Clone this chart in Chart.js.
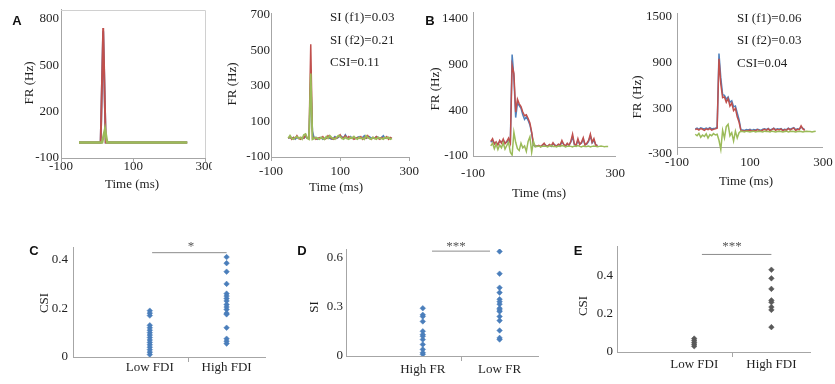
<!DOCTYPE html>
<html>
<head>
<meta charset="utf-8">
<script src="https://cdn.jsdelivr.net/npm/chart.js@4.4.1/dist/chart.umd.min.js"></script>
<style>
  body { margin: 0; background: #fff; }
  #fig { position: relative; width: 835px; height: 384px; overflow: hidden; font-family: "Liberation Serif", "Times New Roman", serif; color: #1f1f1f; }
  #fig canvas { position: absolute; }
  .t, .yt, .note, .panel, .star { position: absolute; font-size: 13px; line-height: 1; white-space: nowrap; }
  .t { transform: translate(-50%, -50%); }
  .yt { transform: translate(-50%, -50%) rotate(-90deg); }
  .note { transform: translateY(-50%); }
  .panel { transform: translate(-50%, -50%); font: bold 13px "Liberation Sans", Arial, sans-serif; color: #111; }
  .star { transform: translate(-50%, -50%); color: #555; }
</style>
</head>
<body>
<div id="fig">
  <canvas id="chartA1" width="212" height="182" style="left:0;top:0"></canvas>
  <canvas id="chartA2" width="210" height="182" style="left:212px;top:0"></canvas>
  <canvas id="chartB1" width="215" height="185" style="left:420px;top:0"></canvas>
  <canvas id="chartB2" width="210" height="175" style="left:625px;top:0"></canvas>
  <canvas id="chartC" width="275" height="145" style="left:0;top:235px"></canvas>
  <canvas id="chartD" width="275" height="145" style="left:280px;top:235px"></canvas>
  <canvas id="chartE" width="275" height="145" style="left:560px;top:235px"></canvas>

  <!-- panel letters -->
  <div class="panel" style="left:17px;top:20px">A</div>
  <div class="panel" style="left:430px;top:20px">B</div>
  <div class="panel" style="left:34px;top:250px">C</div>
  <div class="panel" style="left:302px;top:250px">D</div>
  <div class="panel" style="left:578px;top:250px">E</div>

  <!-- axis titles -->
  <div class="yt" style="left:28px;top:83px">FR (Hz)</div>
  <div class="yt" style="left:231px;top:84px">FR (Hz)</div>
  <div class="yt" style="left:434px;top:89px">FR (Hz)</div>
  <div class="yt" style="left:636px;top:97px">FR (Hz)</div>
  <div class="t" style="left:132px;top:183px">Time (ms)</div>
  <div class="t" style="left:336px;top:186px">Time (ms)</div>
  <div class="t" style="left:539px;top:192px">Time (ms)</div>
  <div class="t" style="left:746px;top:180px">Time (ms)</div>
  <div class="yt" style="left:43px;top:303px">CSI</div>
  <div class="yt" style="left:313px;top:307px">SI</div>
  <div class="yt" style="left:582px;top:306px">CSI</div>

  <!-- index notes -->
  <div class="note" style="left:330px;top:16px">SI (f1)=0.03</div>
  <div class="note" style="left:330px;top:39px">SI (f2)=0.21</div>
  <div class="note" style="left:330px;top:61px">CSI=0.11</div>
  <div class="note" style="left:737px;top:17px">SI (f1)=0.06</div>
  <div class="note" style="left:737px;top:39px">SI (f2)=0.03</div>
  <div class="note" style="left:737px;top:62px">CSI=0.04</div>

  <!-- significance -->
  <div class="star" style="left:191px;top:245px">*</div>
  <div class="star" style="left:456px;top:245px">***</div>
  <div class="star" style="left:732px;top:245px">***</div>
</div>

<script>
// ---- data ----

// A (left): sparse samples, nulls are bridged
const a1Time  = [-50, 10, 14, 17, 22, 24, 28, 250];
const a1Red   = [0, 0, null, 740, null, 0, null, 0];
const a1Blue  = [0, 0, null, 720, null, 0, null, 0];
const a1Green = [0, null, 0, null, 85, null, 0, 0];

// 5 ms bins used by A (right) and B
const timeMs = [-50, -45, -40, -35, -30, -25, -20, -15, -10, -5, 0, 5, 10, 15, 20, 25, 30, 35, 40, 45,
    50, 55, 60, 65, 70, 75, 80, 85, 90, 95, 100, 105, 110, 115, 120, 125, 130, 135, 140, 145,
    150, 155, 160, 165, 170, 175, 180, 185, 190, 195, 200, 205, 210, 215, 220, 225, 230, 235, 240, 245,
    250, 255, 260, 265, 270, 275, 280];

const a2Red = [5, 15, 0, 10, 5, 20, 5, 0, 10, 5,
    25, 5, 5, 535, 5, 10, 0, 5, 10, 5,
    15, 0, 5, 20, 10, 5, 0, 10, 5, 15,
    25, 5, 10, 20, 5, 15, 5, 10, 0, 5,
    10, 5, 15, 0, 10, 5, 20, 5, 0, 10,
    5, 15, 5, 0, 10, 5, 5, 15, 0, 10, 5];
const a2Blue = [5, 10, 5, 10, 0, 10, 5, 5, 10, 5,
    15, 5, 5, 330, 45, 5, 10, 0, 5, 10,
    0, 5, 10, 10, 5, 0, 5, 15, 5, 10,
    20, 15, 5, 25, 10, 5, 15, 5, 10, 5,
    10, 15, 5, 10, 20, 5, 10, 15, 5, 10,
    5, 15, 10, 5, 10, 20, 5, 10, 5, 5, 5];
const a2Green = [5, 20, 5, 0, 10, 15, 5, 10, 0, 25,
    30, 5, 0, 370, 0, 5, 10, 5, 0, 10,
    5, 0, 15, 5, 20, 10, 5, 0, 10, 20,
    15, 5, 0, 10, 5, 0, 10, 5, 15, 5,
    0, 10, 5, 5, 0, 20, 10, 5, 0, 10,
    5, 0, 10, 5, 5, 0, 10, 5, 10, 0, 5];

const b1Red = [60, 90, 30, 55, 20, 70, 40, 85, 35, 60, 95, 40,
    890, 800, 380, 520, 470, 440, 380, 340, 350, 310, 260, 160, 30,
    10, 5, 15, 0, 20, 40, 10, 5, 25, 10, 45, 15, 5, 30, 20, 70, 25, 10, 40, 15,
    60, 140, 30, 20, 90, 25, 50, 100, 20, 40, 70, 140, 50, 90, 20, 15];
const b1Blue = [50, 70, 40, 45, 30, 60, 55, 70, 45, 50, 80, 50,
    1010, 760, 320, 480, 450, 420, 350, 300, 330, 290, 240, 150, 20,
    5, 10, 10, 5, 15, 30, 15, 5, 20, 5, 35, 20, 10, 25, 15, 55, 30, 5, 30, 20,
    50, 110, 25, 15, 70, 30, 40, 85, 25, 30, 60, 120, 45, 70, 25, 10];
const b1Green = [10, 40, -20, 30, -30, 20, -10, 45, -25, 15, 50, -60,
    -90, 160, 50, -20, -40, 40, -10, 10, -50, 60, 110, -60, 60, 0,
    5, 10, 0, 5, 10, 5, 0, 10, 15, 5, 5, 0, 10, 5, 15, 10, 0, 5, 10, 5,
    0, 10, 5, 15, 5, 0, 10, 5, 5, 10, 0, 5, 10, 5, 0, 5, 10, 5, 0, 5, 5];

const b2Red = [20, 30, 15, 35, 25, 10, 30, 20, 35, 15, 25, 30,
    40, 950, 620, 440, 450, 380, 430, 330, 370, 270, 300, 190, 120, 10,
    5, 0, 10, 5, 15, 0, 10, 5, 20, 10, 0, 15, 25, 10, 30, 5, 20, 35, 10, 25,
    15, 30, 5, 20, 10, 35, 15, 30, 40, 10, 25, 20, 70, 30, 10];
const b2Blue = [30, 40, 25, 45, 35, 30, 40, 30, 45, 30, 35, 40,
    50, 1020, 700, 480, 470, 420, 450, 380, 400, 320, 330, 240, 150, 20,
    15, 10, 20, 15, 25, 10, 20, 15, 25, 20, 10, 25, 30, 20, 35, 15, 25, 40, 20, 30,
    25, 35, 15, 25, 20, 40, 25, 35, 45, 20, 30, 25, 55, 35, 20];
const b2Green = [-40, -60, -30, -80, -50, -70, -35, -90, -45, -60, -30, -50,
    -40, -120, -240, 10, -90, 60, 90, -60, -20, -130, 0, -90, -20, 0,
    -5, -10, 0, -5, -10, -5, 0, -10, -5, 0, -5, -10, 0, -5, -5, -10, 0, -5, -10, -5,
    0, -5, -10, -5, 0, -10, -5, 0, -5, -10, -5, 0, -5, -10, -5, 0, -5, -5, -10, -5, 0];

// tick labels
const a1YTicks = [-100, 200, 500, 800];
const a2YTicks = [-100, 100, 300, 500, 700];
const b1YTicks = [-100, 400, 900, 1400];
const b2YTicks = [-300, 300, 900, 1500];
const b2AxisCross = -220;
const timeTicks = [-100, 100, 300];
const b1TimeTicks = [-100, 300];

// C, D, E scatter values
const cCats = ["Low FDI", "High FDI"];
const cLow = [0.19, 0.18, 0.17, 0.13, 0.12, 0.11, 0.10, 0.09, 0.08, 0.07, 0.06, 0.05, 0.04, 0.03, 0.02, 0.01];
const cHigh = [0.41, 0.385, 0.35, 0.30, 0.26, 0.25, 0.24, 0.23, 0.215, 0.205, 0.195, 0.18, 0.175, 0.12, 0.075, 0.065, 0.055];
const cYTicks = [0, 0.2, 0.4];
const cBracketX = [1.03, 2];
const cBracketY = 0.428;

const dCats = ["High FR", "Low FR"];
const dHighFR = [0.29, 0.25, 0.24, 0.21, 0.15, 0.13, 0.12, 0.10, 0.07, 0.04, 0.02, 0.01];
const dLowFR = [0.635, 0.50, 0.415, 0.385, 0.345, 0.33, 0.315, 0.29, 0.28, 0.27, 0.24, 0.215, 0.155, 0.11, 0.10];
const dYTicks = [0, 0.3, 0.6];
const dBracketX = [1.12, 1.875];
const dBracketY = 0.637;

const eCats = ["Low FDI", "High FDI"];
const eLow = [0.07, 0.06, 0.05, 0.04, 0.03];
const eHigh = [0.43, 0.385, 0.33, 0.27, 0.26, 0.235, 0.22, 0.13];
const eYTicks = [0, 0.2, 0.4];
const eBracketX = [1.1, 2];
const eBracketY = 0.51;

// ---- styling ----
const RED = "#c0504d";
const BLUE = "#4f81bd";
const GREEN = "#9bbb59";
const axisGray = "#a6a6a6";
const textColor = "#1f1f1f";
const tickFont = { family: "'Liberation Serif', 'Times New Roman', serif", size: 13 };

function fixedTicks(values) {
    return (axis) => { axis.ticks = values.map(v => ({ value: v })); };
}

function lineSet(times, values, color, width) {
    return {
        data: values.map((v, i) => ({ x: times[i], y: v })),
        borderColor: color,
        borderWidth: width,
        pointRadius: 0,
        tension: 0,
        spanGaps: true,
        fill: false
    };
}

// light box on top/right of panel A left
const boxOutline = {
    id: "boxOutline",
    afterDraw(chart) {
        const { ctx, chartArea: a } = chart;
        ctx.save();
        ctx.strokeStyle = "#d0d0d0";
        ctx.lineWidth = 1;
        ctx.beginPath();
        ctx.moveTo(a.left, Math.round(a.top) + 0.5);
        ctx.lineTo(Math.round(a.right) + 0.5, Math.round(a.top) + 0.5);
        ctx.lineTo(Math.round(a.right) + 0.5, a.bottom);
        ctx.stroke();
        ctx.restore();
    }
};

// Trace panels (A, B)
function traceChart(id, cfg) {
    const canvas = document.getElementById(id);
    const W = canvas.width, H = canvas.height;
    const a = cfg.area;
    const cross = cfg.cross;

    return new Chart(canvas, {
        type: "line",
        data: { datasets: cfg.datasets },
        options: {
            responsive: false,
            animation: false,
            events: [],
            layout: { padding: { left: 0, top: a.top, right: W - a.right, bottom: 0 } },
            plugins: { legend: { display: false }, tooltip: { enabled: false } },
            scales: {
                x: {
                    type: "linear",
                    min: -100,
                    max: 300,
                    afterBuildTicks: fixedTicks(cfg.xTicks),
                    afterFit: (s) => { s.height = H - a.bottom; },
                    border: { display: cross === undefined, color: axisGray },
                    grid: {
                        drawOnChartArea: false,
                        drawTicks: cfg.xTickLen > 0,
                        tickLength: cfg.xTickLen || 0,
                        color: axisGray
                    },
                    ticks: { font: tickFont, color: textColor, padding: cfg.xPad, maxRotation: 0, autoSkip: false }
                },
                y: {
                    min: cfg.yMin,
                    max: cfg.yMax,
                    afterBuildTicks: fixedTicks(cross === undefined ? cfg.yTicks : cfg.yTicks.concat([cross])),
                    afterFit: (s) => { s.width = a.left; },
                    border: { color: axisGray },
                    grid: {
                        drawTicks: false,
                        drawOnChartArea: cross !== undefined,
                        color: (c) => (c.tick && c.tick.value === cross) ? axisGray : "rgba(0,0,0,0)"
                    },
                    ticks: {
                        font: tickFont,
                        color: textColor,
                        padding: cfg.yPad,
                        callback: (v) => v === cross ? "" : String(v)
                    }
                }
            }
        },
        plugins: cfg.plugins || []
    });
}

// Dot panels (C, D, E)
function dotChart(id, cfg) {
    const canvas = document.getElementById(id);
    const W = canvas.width, H = canvas.height;
    const a = cfg.area;

    const dots = (vals, x) => ({
        type: "scatter",
        data: vals.map(v => ({ x: x, y: v })),
        pointStyle: "rectRot",
        pointRadius: 2.8,
        backgroundColor: cfg.color,
        borderColor: cfg.color,
        borderWidth: 0.5
    });

    return new Chart(canvas, {
        type: "scatter",
        data: {
            datasets: [
                dots(cfg.first, 1),
                dots(cfg.second, 2),
                {
                    type: "line",
                    data: cfg.bracketX.map(x => ({ x: x, y: cfg.bracketY })),
                    borderColor: "#8c8c8c",
                    borderWidth: 1,
                    pointRadius: 0,
                    clip: false
                }
            ]
        },
        options: {
            responsive: false,
            animation: false,
            events: [],
            layout: { padding: { left: 0, top: a.top, right: W - a.right, bottom: 0 } },
            plugins: { legend: { display: false }, tooltip: { enabled: false } },
            scales: {
                x: {
                    type: "linear",
                    min: 0,
                    max: 2.5,
                    afterBuildTicks: fixedTicks([1, 1.5, 2]),
                    afterFit: (s) => { s.height = H - a.bottom; },
                    border: { color: axisGray },
                    grid: {
                        drawOnChartArea: false,
                        tickLength: 5,
                        tickColor: (c) => (c.tick && c.tick.value === 1.5) ? axisGray : "rgba(0,0,0,0)"
                    },
                    ticks: {
                        font: tickFont,
                        color: textColor,
                        padding: cfg.xPad,
                        maxRotation: 0,
                        autoSkip: false,
                        callback: (v) => v === 1 ? cfg.cats[0] : (v === 2 ? cfg.cats[1] : "")
                    }
                },
                y: {
                    min: 0,
                    max: cfg.yMax,
                    afterBuildTicks: fixedTicks(cfg.yTicks),
                    afterFit: (s) => { s.width = a.left; },
                    border: { color: axisGray },
                    grid: { drawOnChartArea: false, drawTicks: false },
                    ticks: { font: tickFont, color: textColor, padding: cfg.yPad, callback: (v) => String(v) }
                }
            }
        }
    });
}

// ---- build ----
traceChart("chartA1", {
    area: { left: 61, right: 208, top: 9, bottom: 158 },
    yMin: -100, yMax: 858, yTicks: a1YTicks, yPad: 2,
    xTicks: timeTicks, xTickLen: 4, xPad: -3,
    datasets: [
        lineSet(a1Time, a1Green, GREEN, 2.5),
        lineSet(a1Time, a1Red, RED, 2),
        lineSet(a1Time, a1Blue, BLUE, 2)
    ],
    plugins: [boxOutline]
});

traceChart("chartA2", {
    area: { left: 59, right: 204, top: 13, bottom: 157 },
    yMin: -100, yMax: 711, yTicks: a2YTicks, yPad: 1,
    xTicks: timeTicks, xTickLen: 4, xPad: 3,
    datasets: [
        lineSet(timeMs, a2Green, GREEN, 1.8),
        lineSet(timeMs, a2Red, RED, 1.5),
        lineSet(timeMs, a2Blue, BLUE, 1.5)
    ]
});

traceChart("chartB1", {
    area: { left: 53, right: 201, top: 10, bottom: 156 },
    yMin: -100, yMax: 1465, yTicks: b1YTicks, yPad: 5,
    xTicks: b1TimeTicks, xTickLen: 0, xPad: 10,
    datasets: [
        lineSet(timeMs, b1Green, GREEN, 1.5),
        lineSet(timeMs, b1Red, RED, 1.5),
        lineSet(timeMs, b1Blue, BLUE, 1.5)
    ]
});

traceChart("chartB2", {
    area: { left: 52, right: 198, top: 13, bottom: 154 },
    yMin: -300, yMax: 1553, yTicks: b2YTicks, yPad: 5, cross: b2AxisCross,
    xTicks: timeTicks, xTickLen: 0, xPad: 1,
    datasets: [
        lineSet(timeMs, b2Green, GREEN, 1.5),
        lineSet(timeMs, b2Red, RED, 1.5),
        lineSet(timeMs, b2Blue, BLUE, 1.5)
    ]
});

dotChart("chartC", {
    area: { left: 73, right: 265, top: 10, bottom: 122 },
    yMax: 0.448, yTicks: cYTicks, yPad: 5, xPad: -2,
    cats: cCats, first: cLow, second: cHigh, color: "#4a7ebb",
    bracketX: cBracketX, bracketY: cBracketY
});

dotChart("chartD", {
    area: { left: 66, right: 258, top: 14, bottom: 121 },
    yMax: 0.65, yTicks: dYTicks, yPad: 3, xPad: 1,
    cats: dCats, first: dHighFR, second: dLowFR, color: "#4a7ebb",
    bracketX: dBracketX, bracketY: dBracketY
});

dotChart("chartE", {
    area: { left: 57, right: 250, top: 8, bottom: 117 },
    yMax: 0.55, yTicks: eYTicks, yPad: 4, xPad: 0,
    cats: eCats, first: eLow, second: eHigh, color: "#595959",
    bracketX: eBracketX, bracketY: eBracketY
});
</script>
</body>
</html>
